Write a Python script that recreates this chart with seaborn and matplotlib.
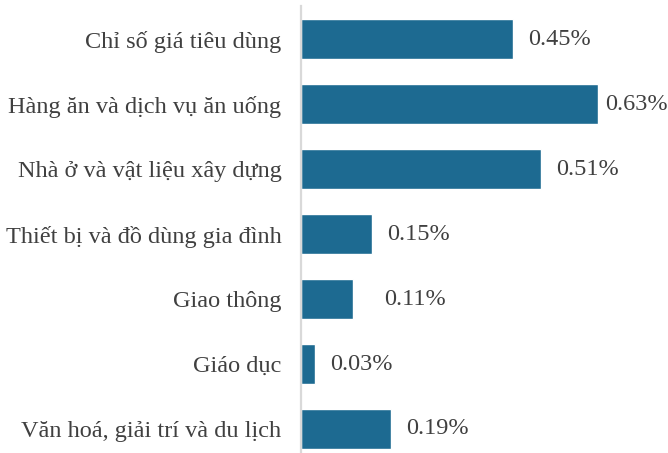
import matplotlib
matplotlib.use("Agg")
import matplotlib.pyplot as plt
import seaborn as sns
import pandas as pd

# Dữ liệu
nhom_hang = [
    "Chỉ số giá tiêu dùng",
    "Hàng ăn và dịch vụ ăn uống",
    "Nhà ở và vật liệu xây dựng",
    "Thiết bị và đồ dùng gia đình",
    "Giao thông",
    "Giáo dục",
    "Văn hoá, giải trí và du lịch",
]
tang_gia = [0.45, 0.63, 0.51, 0.15, 0.11, 0.03, 0.19]
nhan = ["0.45%", "0.63%", "0.51%", "0.15%", "0.11%", "0.03%", "0.19%"]

# khoảng cách nhãn so với đầu thanh (pixel)
lech_nhan = [15, 7, 15, 15, 31, 15, 16]

df = pd.DataFrame({"nhom": nhom_hang, "gia_tri": tang_gia})

sns.set_style("white")
plt.rcParams["font.family"] = ["Liberation Serif", "DejaVu Serif"]

fig = plt.figure(figsize=(6.68, 4.53), dpi=100)
ax = fig.add_axes([0.4506, 0.0022, 0.5494, 0.9845])

sns.barplot(data=df, y="nhom", x="gia_tri", orient="h",
            color="#1d6a91", width=0.62, saturation=1, ax=ax)

for i, (v, t, d) in enumerate(zip(tang_gia, nhan, lech_nhan)):
    ax.annotate(t, xy=(v, i), xytext=(d * 0.72, 0), textcoords="offset points",
                va="center", ha="left", fontsize=17.5, color="#404040")

ax.set_xlim(0, 0.779)
ax.set_ylim(6.354, -0.508)
ax.set_xlabel("")
ax.set_ylabel("")
ax.set_xticks([])
ax.tick_params(axis="y", length=0, pad=14, labelsize=17.5, labelcolor="#404040")

for s in ["top", "right", "bottom"]:
    ax.spines[s].set_visible(False)
ax.spines["left"].set_color("#d9d9d9")
ax.spines["left"].set_linewidth(1.6)

fig.savefig("out.png", dpi=100)
